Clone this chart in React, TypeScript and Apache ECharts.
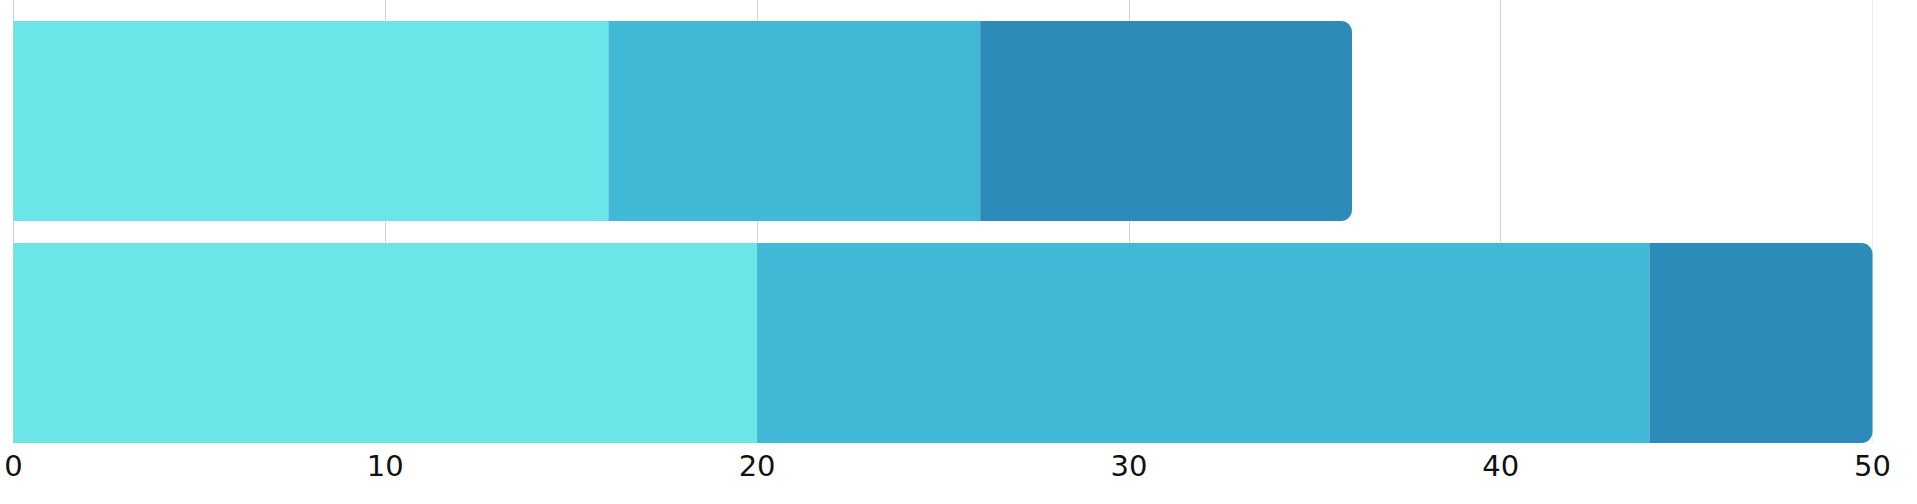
import React, { useEffect, useRef } from "react";
import * as echarts from "echarts";

const categories = ["A", "B"];
const seriesNames = ["Part 1", "Part 2", "Part 3"];
const part1 = [16, 20];
const part2 = [10, 24];
const part3 = [10, 6];
const xTicks = [0, 10, 20, 30, 40, 50];
const colors = ["#6ce5e8", "#41b8d5", "#2d8bba"];

export default function App() {
  const ref = useRef<HTMLDivElement>(null);
  useEffect(() => {
    document.body.style.margin = "0";
    if (!ref.current) return;
    const chart = echarts.init(ref.current, null, { renderer: "svg" });
    const values = [part1, part2, part3];
    chart.setOption({
      animation: false,
      grid: [
        { left: 13.5, right: 44.5, top: 0, height: 443 },
        { left: 13.5, right: 44.5, top: 10, height: 444 },
      ],
      xAxis: [
        {
          gridIndex: 0,
          type: "value",
          min: xTicks[0],
          max: xTicks[xTicks.length - 1],
          interval: 10,
          axisLine: { show: false },
          axisTick: { show: false },
          splitLine: {
            show: true,
            lineStyle: { color: ["#cfcfcf", "#d4d4d4", "#d4d4d4", "#d4d4d4", "#d4d4d4", "#ececec"], width: 1 },
          },
          axisLabel: {
            color: "#111",
            fontFamily: "DejaVu Sans",
            fontSize: 29,
            margin: 8,
          },
        },
        {
          gridIndex: 1,
          type: "value",
          min: xTicks[0],
          max: xTicks[xTicks.length - 1],
          show: false,
        },
      ],
      yAxis: [
        { gridIndex: 0, type: "category", data: categories, show: false },
        { gridIndex: 1, type: "category", data: categories, inverse: true, show: false },
      ],
      series: values.map((v, i) => ({
        name: seriesNames[i],
        type: "bar",
        stack: "total",
        xAxisIndex: 1,
        yAxisIndex: 1,
        data: v,
        barCategoryGap: "10%",
        itemStyle: {
          color: colors[i],
          borderRadius: i === values.length - 1 ? [0, 11, 11, 0] : 0,
        },
      })),
    });
    return () => chart.dispose();
  }, []);
  return <div ref={ref} style={{ width: 1917, height: 504 }} />;
}
